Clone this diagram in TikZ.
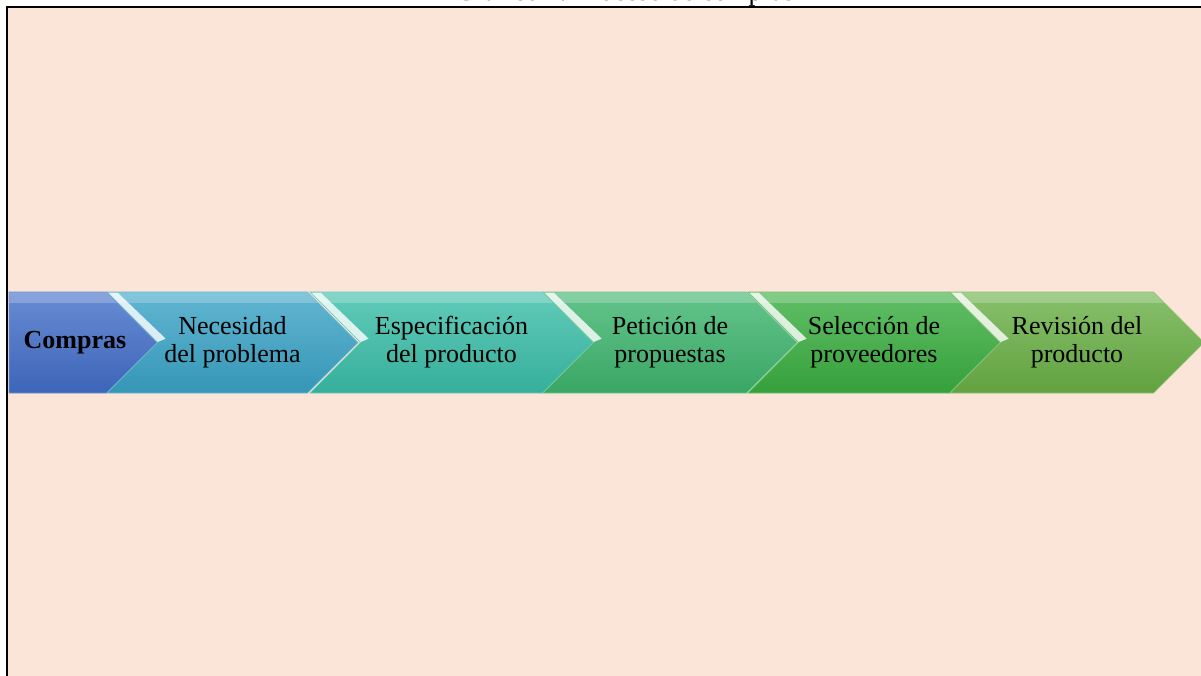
\documentclass[tikz,border=0pt]{standalone}
\usepackage{fontspec}
\setmainfont{Liberation Serif}
\usetikzlibrary{shapes.symbols}

\definecolor{fondo}{RGB}{250,229,216}
\definecolor{cCompras}{RGB}{66,110,200}
\definecolor{cNecesidad}{RGB}{58,163,198}
\definecolor{cEspecif}{RGB}{58,190,168}
\definecolor{cPeticion}{RGB}{62,181,110}
\definecolor{cSeleccion}{RGB}{58,174,64}
\definecolor{cRevision}{RGB}{106,176,70}

\tikzset{
  etapa/.style={signal, signal to=east, signal pointer angle=90,
    minimum height=75.75pt, inner sep=0pt, outer sep=0pt,
    draw=#1!75!white, line width=0.4pt,
    top color=#1!80!white, middle color=#1, bottom color=#1!92!black,
    align=center, font=\fontsize{19.5}{21}\selectfont,
    path picture={
      \fill[white, opacity=0.22]
        (path picture bounding box.north west) rectangle
        ([yshift=-8pt]path picture bounding box.north east);
    }},
  paso/.style={etapa=#1, signal from=west,
    path picture={
      \fill[white, opacity=0.22]
        (path picture bounding box.north west) rectangle
        ([yshift=-8pt]path picture bounding box.north east);
      \fill[white, opacity=0.8]
        ([shift={(1pt,-0.5pt)}]path picture bounding box.north west) --
        ([shift={(8pt,-0.5pt)}]path picture bounding box.north west) --
        ([shift={(44pt,-35pt)}]path picture bounding box.north west) --
        ([shift={(38pt,-37.5pt)}]path picture bounding box.north west) -- cycle;
    }},
}

\begin{document}
\begin{tikzpicture}[x=0.75pt,y=0.75pt,yscale=-1,xscale=1]
\useasboundingbox (0,0) rectangle (1201,675);

%Shape: Rectangle
\draw [fill=fondo, line width=1.1pt] (7,7) rectangle (1215,690) ;

% Text Node
\node (titulo) [anchor=base, font=\fontsize{20.5}{22}\selectfont] at (625,0.3) {Gráfico 1. Proceso de compras};

%Shape: Chevrons
\node (compras) [etapa=cCompras, minimum width=111pt, anchor=east] at (157,342.5) {};
\node (necesidad) [paso=cNecesidad, minimum width=188.25pt] at (232.5,342.5) {Necesidad\\del problema};
\node (especif) [paso=cEspecif, minimum width=212.25pt] at (451.5,342.5) {Especificación\\del producto};
\node (peticion) [paso=cPeticion, minimum width=190.5pt] at (670,342.5) {Petición de\\propuestas};
\node (seleccion) [paso=cSeleccion, minimum width=189pt] at (874,342.5) {Selección de\\proveedores};
\node (revision) [paso=cRevision, minimum width=190.5pt] at (1077,342.5) {Revisión del\\producto};

% Text Node
\node (comprastxt) [font=\fontsize{19.5}{21}\selectfont\bfseries] at (75,342.5) {Compras};

\end{tikzpicture}
\end{document}
